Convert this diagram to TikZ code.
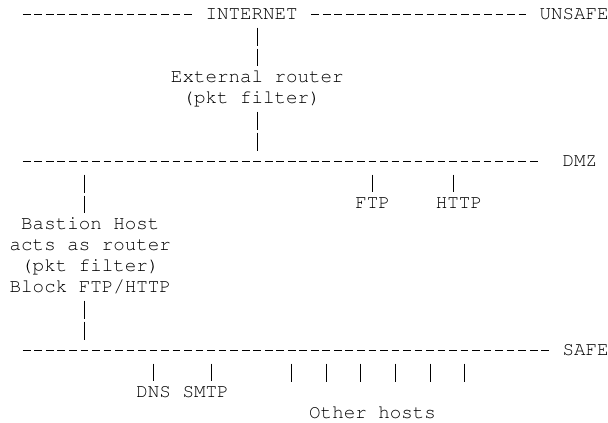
\documentclass[tikz,border=0pt]{standalone}
\usepackage{tikz}
\usetikzlibrary{positioning,calc}

% typewriter face used for every label
\newcommand{\netfont}{\fontencoding{T1}\fontfamily{pcr}\fontsize{19.2pt}{21pt}\selectfont}

\tikzset{
  net/label/.style={inner sep=0pt, anchor=west, text height=16pt, text depth=5pt, font=\netfont},
  net/bus/.style={line width=0.8pt, dash pattern=on 7.7pt off 3.82pt, shorten <=1.9pt},
  net/pipe/.style={line width=0.8pt, dash pattern=on 18pt off 3pt, dash phase=18pt}
}

\begin{document}
\begin{tikzpicture}[x=11.52pt, y=21pt]
  \useasboundingbox (-9.5pt,14pt) rectangle (598.5pt,-409pt);

  % Segments
  \coordinate (inet0) at (1,0);
  \coordinate (dmz0) at (1,-7);
  \coordinate (safe0) at (1,-16);
  \node[net/label] (inet) at (17,0) {INTERNET};
  \node[net/label] (unsafe) at (46,0) {UNSAFE};
  \node[net/label] (dmz) at (48,-7) {DMZ};
  \node[net/label] (safe) at (48,-16) {SAFE};

  \draw[net/bus, shorten >=13.42pt] (inet0) -- (inet.west);
  \draw[net/bus, shorten <=13.42pt, shorten >=13.42pt] (inet.east) -- (unsafe.west);
  \draw[net/bus, shorten >=24.94pt] (dmz0) -- (dmz.west);
  \draw[net/bus, shorten >=13.42pt] (safe0) -- (safe.west);

  % External router
  \node[net/label] (ext) at (14,-3) {External router};
  \node[net/label] (extpf) at (15,-4) {(pkt filter)};
  \draw[net/pipe] (ext.north |- inet.south) -- (ext.north);
  \draw[net/pipe, shorten >=10.5pt] (ext.north |- extpf.south) -- (ext.north |- dmz0);

  % DMZ servers
  \node[net/label] (ftp) at (30,-9) {FTP};
  \node[net/label] (http) at (37,-9) {HTTP};
  \coordinate (tapHttp) at (38.5,-7);
  \draw[net/pipe, shorten <=10.5pt] (ftp.north |- dmz0) -- (ftp.north);
  \draw[net/pipe, shorten <=10.5pt] (tapHttp) -- (tapHttp |- http.north);

  % Bastion host
  \node[net/label] (bh) at (1,-10) {Bastion Host};
  \node[net/label] (bhrt) at (0,-11) {acts as router};
  \node[net/label] (bhpf) at (1,-12) {(pkt filter)};
  \node[net/label] (bhblk) at (0,-13) {Block FTP/HTTP};
  \coordinate (tapBh) at (6.5,-7);
  \draw[net/pipe, shorten <=10.5pt] (tapBh) -- (tapBh |- bh.north);
  \draw[net/pipe, shorten >=10.5pt] (tapBh |- bhblk.south) -- (tapBh |- safe0);

  % Inside hosts
  \node[net/label] (dns) at (11,-18) {DNS};
  \node[net/label] (smtp) at (15,-18) {SMTP};
  \node[net/label] (other) at (26,-19) {Other hosts};
  \coordinate (tapSmtp) at (17.5,-16);
  \draw[net/pipe, shorten <=10.5pt] (dns.north |- safe0) -- (dns.north);
  \draw[net/pipe, shorten <=10.5pt] (tapSmtp) -- (tapSmtp |- smtp.north);
  \foreach \c in {24.5,27.5,...,39.5}
    \draw[net/pipe, shorten <=10.5pt] (\c,-16) -- (\c,-17.5);
\end{tikzpicture}
\end{document}
